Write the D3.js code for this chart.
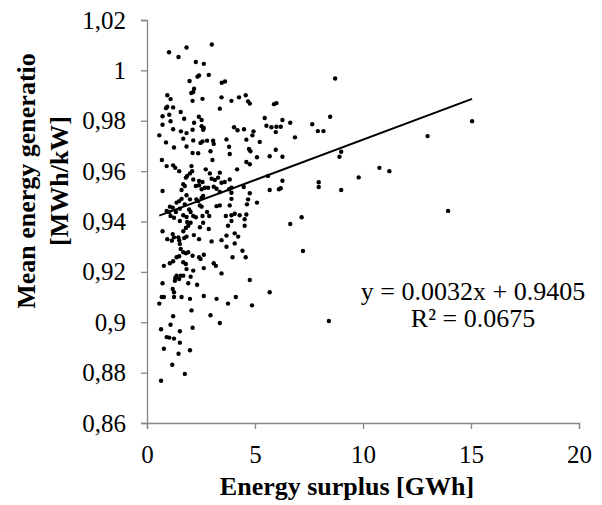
<!DOCTYPE html>
<html>
<head>
<meta charset="utf-8">
<script src="https://cdn.jsdelivr.net/npm/d3@7"></script>
<style>
  body { margin: 0; background: #fff; }
  svg { display: block; font-family: "Liberation Serif", "Times New Roman", serif; }
</style>
</head>
<body>
<div id="chart"></div>
<script>
// x = energy surplus [GWh], y = mean energy generation [MWh/kW]
const points = [
  [1.02,1.0072],[1.83,1.0091],[3.00,1.0103],[1.46,1.0053],[2.26,1.0033],[2.63,1.0026],[2.41,0.9980],[2.34,0.9975],[2.86,0.9982],[1.97,0.9958],[3.46,0.9951],[3.61,0.9956],[2.18,0.9927],
  [0.94,0.9901],[1.09,0.9886],[2.14,0.9914],[2.05,0.9910],[2.11,0.9879],[2.57,0.9887],[3.45,0.9893],[3.91,0.9879],[4.26,0.9893],[4.57,0.9901],[4.68,0.9877],[4.76,0.9868],[5.99,0.9870],[5.88,0.9866],
  [0.88,0.9850],[0.94,0.9856],[1.21,0.9853],[1.56,0.9835],[3.37,0.9848],[0.72,0.9818],[1.03,0.9824],[1.72,0.9808],[2.40,0.9816],[2.53,0.9803],[5.45,0.9811],
  [1.09,0.9798],[2.18,0.9792],[0.72,0.9784],[2.53,0.9778],[2.63,0.9771],[2.60,0.9764],[4.03,0.9774],[4.19,0.9762],[4.49,0.9766],[5.53,0.9780],[5.76,0.9774],[5.99,0.9776],[5.96,0.9755],
  [1.21,0.9766],[1.57,0.9758],[1.83,0.9751],[2.11,0.9764],[0.57,0.9742],[4.93,0.9758],[4.88,0.9742],
  [1.68,0.9729],[2.14,0.9722],[2.57,0.9718],[2.48,0.9712],[2.78,0.9721],[3.06,0.9721],[3.09,0.9708],[3.68,0.9726],[4.60,0.9725],[5.22,0.9716],
  [0.88,0.9714],[1.25,0.9694],[1.83,0.9698],[3.80,0.9697],[4.72,0.9688],[4.79,0.9679],[5.96,0.9685],
  [2.11,0.9672],[2.37,0.9671],[2.94,0.9679],[3.83,0.9668],[5.09,0.9655],[5.68,0.9659],
  [0.69,0.9644],[0.91,0.9620],[1.21,0.9623],[1.31,0.9613],[1.49,0.9600],[2.06,0.9620],[1.99,0.9591],[2.09,0.9600],[2.72,0.9607],[2.91,0.9591],[3.37,0.9594],[3.03,0.9644],[4.17,0.9607],[4.60,0.9636],[4.76,0.9627],
  [1.80,0.9574],[1.86,0.9581],[2.14,0.9567],[2.41,0.9561],[2.57,0.9557],[2.99,0.9570],[3.14,0.9565],[3.29,0.9574],[3.83,0.9567],[3.45,0.9554],[3.60,0.9557],
  [1.68,0.9548],[1.75,0.9541],[2.26,0.9541],[2.41,0.9544],[2.68,0.9534],[2.83,0.9534],[3.09,0.9538],[3.22,0.9530],[3.80,0.9528],[3.91,0.9534],[4.48,0.9537],[5.60,0.9581],
  [0.72,0.9521],[1.60,0.9525],[2.53,0.9528],[5.68,0.9525],[6.11,0.9528],[3.37,0.9517],[3.91,0.9514],[1.83,0.9504],[2.60,0.9501],[2.53,0.9494],[4.76,0.9512],
  [1.60,0.9490],[1.49,0.9481],[1.99,0.9488],[2.29,0.9488],[2.37,0.9481],[3.91,0.9490],[4.68,0.9488],[5.09,0.9475],
  [1.37,0.9475],[1.75,0.9468],[2.45,0.9464],[2.53,0.9459],[3.37,0.9464],[4.63,0.9468],[1.06,0.9459],[1.19,0.9455],[1.52,0.9451],
  [0.91,0.9442],[1.03,0.9438],[1.34,0.9438],[1.95,0.9448],[2.02,0.9438],[2.78,0.9438],[3.22,0.9461],[3.83,0.9464],[4.06,0.9431],[3.91,0.9425],[4.29,0.9425],[4.60,0.9428],
  [1.09,0.9422],[1.25,0.9415],[1.68,0.9425],[1.83,0.9418],[2.14,0.9422],[2.26,0.9417],[2.57,0.9422],[2.88,0.9422],[3.65,0.9422],
  [1.86,0.9398],[2.02,0.9395],[2.60,0.9395],[1.52,0.9402],[3.91,0.9402],[4.52,0.9409],
  [0.72,0.9361],[0.94,0.9330],[1.19,0.9350],[1.25,0.9337],[1.15,0.9324],[1.45,0.9337],[1.49,0.9326],[1.68,0.9361],[1.80,0.9374],[1.91,0.9383],[1.72,0.9334],[1.83,0.9340],
  [2.17,0.9346],[2.41,0.9330],[2.45,0.9377],[2.86,0.9370],[2.99,0.9321],[3.45,0.9326],[3.68,0.9344],[4.06,0.9353],[4.22,0.9340],[3.75,0.9383],[4.52,0.9383],
  [3.68,0.9300],[4.06,0.9313],[1.52,0.9311],[1.56,0.9291],[1.68,0.9278],[1.80,0.9274],[1.91,0.9278],[2.11,0.9264],[1.37,0.9258],[1.49,0.9262],[2.41,0.9258],[2.48,0.9251],[2.63,0.9268],[4.42,0.9284],[3.96,0.9258],[4.57,0.9258],
  [1.21,0.9242],[1.68,0.9238],[1.80,0.9231],[1.06,0.9234],[0.78,0.9224],[3.09,0.9234],[3.19,0.9224],[2.63,0.9215],[1.83,0.9211],[2.14,0.9205],[3.45,0.9194],
  [1.37,0.9185],[1.56,0.9185],[1.68,0.9185],[1.31,0.9176],[1.49,0.9172],[2.02,0.9181],[1.29,0.9165],[0.72,0.9155],[1.91,0.9155],[2.32,0.9149],[4.76,0.9168],[1.19,0.9132],[1.25,0.9119],[5.68,0.9119],
  [0.68,0.9100],[0.78,0.9100],[1.25,0.9100],[1.60,0.9100],[1.99,0.9093],[2.63,0.9104],[3.22,0.9093],[4.11,0.9100],[0.57,0.9074],[3.75,0.9074],[4.86,0.9067],[2.06,0.9047],[1.21,0.9024],[2.94,0.9028],
  [1.09,0.8990],[3.37,0.8997],[0.65,0.8972],[1.52,0.8964],[2.11,0.8978],[0.91,0.8941],[1.03,0.8939],[1.25,0.8935],[1.52,0.8919],[0.78,0.8895],[1.46,0.8875],[1.99,0.8889],
  [1.17,0.8831],[1.75,0.8795],[0.65,0.8768],
  [8.71,0.9968],[6.27,0.9803],[6.19,0.9776],[6.63,0.9792],[7.65,0.9786],[8.48,0.9816],[7.91,0.9759],[8.17,0.9759],[6.85,0.9734],[6.27,0.9657],[8.99,0.9677],[8.91,0.9657],
  [12.99,0.9739],[15.05,0.9798],[10.76,0.9613],[11.22,0.9600],[9.80,0.9575],[6.27,0.9562],[7.95,0.9556],[7.95,0.9537],[6.19,0.9532],[8.99,0.9525],[7.16,0.9417],[6.63,0.9390],
  [13.94,0.9442],[7.22,0.9283],[8.42,0.9005]
];

const xTicks = [0, 5, 10, 15, 20];
const yTicks = [0.86, 0.88, 0.90, 0.92, 0.94, 0.96, 0.98, 1.00, 1.02];

// linear trendline as printed on the chart
const slope = 0.0032;
const intercept = 0.9405;
const equationLines = ["y = 0.0032x + 0.9405", "R\u00B2 = 0.0675"];

const xTitle = "Energy surplus [GWh]";
const yTitleLines = ["Mean energy generatio", "[MWh/kW]"];

const width = 602, height = 505;
const axisColor = "#868686";

const svg = d3.select("#chart")
  .append("svg")
    .attr("width", width)
    .attr("height", height);

svg.append("rect")
  .attr("width", width)
  .attr("height", height)
  .attr("fill", "#fff");

const x = d3.scaleLinear()
  .domain([0, 20])
  .range([147, 579]);

const y = d3.scaleLinear()
  .domain([0.86, 1.02])
  .range([423, 20]);

const commaLocale = d3.formatLocale({ decimal: ",", thousands: " ", grouping: [3], currency: ["", ""] });
const yFormat = commaLocale.format(".2~f");

// x axis
const xAxis = svg.append("g")
  .attr("transform", `translate(0,${y(0.86)})`)
  .call(d3.axisBottom(x).tickValues(xTicks).tickSize(6).tickPadding(16).tickFormat(d3.format("d")));

// y axis
const yAxis = svg.append("g")
  .attr("transform", `translate(${x(0)},0)`)
  .call(d3.axisLeft(y).tickValues(yTicks).tickSize(6).tickPadding(15).tickFormat(yFormat));

[xAxis, yAxis].forEach(g => {
  g.select(".domain").attr("stroke", axisColor).attr("stroke-width", 1.3);
  g.selectAll(".tick line").attr("stroke", axisColor).attr("stroke-width", 1.3);
  g.selectAll(".tick text")
    .attr("fill", "#000")
    .style("font-family", "'Liberation Serif', 'Times New Roman', serif")
    .style("font-size", "25px");
});

// points
svg.append("g")
  .selectAll("circle")
  .data(points)
  .enter()
  .append("circle")
    .attr("cx", d => x(d[0]))
    .attr("cy", d => y(d[1]))
    .attr("r", 2.2)
    .attr("fill", "#000");

// trendline over the data range
const xExtent = d3.extent(points, d => d[0]);
svg.append("line")
  .attr("x1", x(xExtent[0]))
  .attr("y1", y(slope * xExtent[0] + intercept))
  .attr("x2", x(xExtent[1]))
  .attr("y2", y(slope * xExtent[1] + intercept))
  .attr("stroke", "#000")
  .attr("stroke-width", 2);

// equation label
svg.append("g")
  .selectAll("text")
  .data(equationLines)
  .enter()
  .append("text")
    .attr("x", 473)
    .attr("y", (d, i) => 300 + i * 27)
    .attr("text-anchor", "middle")
    .style("font-size", "26px")
    .text(d => d);

// axis titles
svg.append("text")
  .attr("x", 347)
  .attr("y", 495)
  .attr("text-anchor", "middle")
  .style("font-size", "26px")
  .style("font-weight", "bold")
  .text(xTitle);

svg.append("g")
  .selectAll("text")
  .data(yTitleLines)
  .enter()
  .append("text")
    .attr("transform", (d, i) => `translate(${i === 0 ? 34.5 : 68},181) rotate(-90)`)
    .attr("text-anchor", "middle")
    .style("font-size", "26px")
    .style("font-weight", "bold")
    .text(d => d);
</script>
</body>
</html>
